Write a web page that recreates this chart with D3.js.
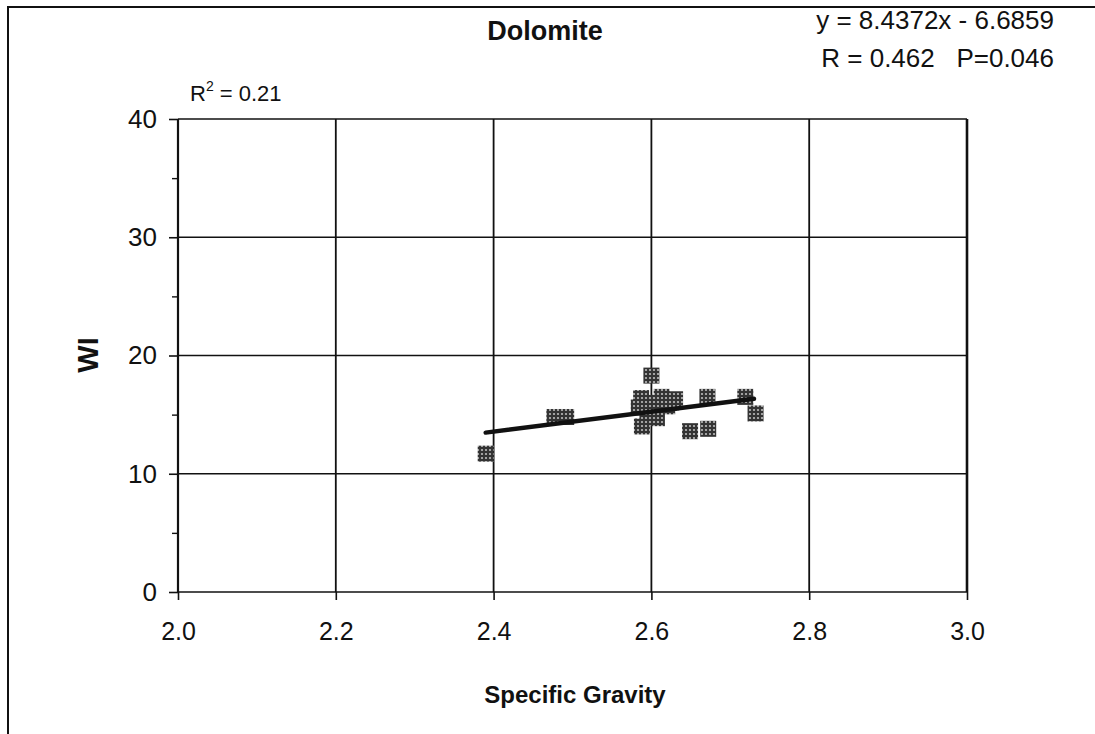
<!DOCTYPE html>
<html>
<head>
<meta charset="utf-8">
<script src="https://cdn.jsdelivr.net/npm/d3@7"></script>
<style>
  body { margin: 0; background: #fff; }
  text { font-family: "Liberation Sans", Arial, sans-serif; fill: #111; }
</style>
</head>
<body>
<script>
// data
var sg = [2.39, 2.477, 2.492, 2.600, 2.587, 2.613, 2.630, 2.584, 2.603, 2.620, 2.588, 2.607, 2.595, 2.671, 2.719, 2.732, 2.649, 2.672, 2.625];
var wi = [11.7, 14.8, 14.8, 18.3, 16.4, 16.5, 16.3, 15.6, 16.0, 15.7, 14.0, 14.7, 14.9, 16.5, 16.5, 15.1, 13.6, 13.8, 16.0];
var xTicks = [2.0, 2.2, 2.4, 2.6, 2.8, 3.0];
var yTicks = [0, 10, 20, 30, 40];
var yMinor = [5, 15, 25, 35];
var slope = 8.4372, intercept = -6.6859;
var fitRange = [2.39, 2.73];

var width = 1095, height = 734;
var svg = d3.select("body").append("svg")
  .attr("width", width)
  .attr("height", height);

// dotted fill for the square markers
var pat = svg.append("defs").append("pattern")
  .attr("id", "dots")
  .attr("width", 4).attr("height", 4)
  .attr("patternUnits", "userSpaceOnUse");
pat.append("rect").attr("width", 4).attr("height", 4).attr("fill", "#333");
pat.append("circle").attr("cx", 2).attr("cy", 2).attr("r", 1.1).attr("fill", "#bdbdbd");

// scanned page frame (top and left only)
svg.append("line").attr("x1", 7).attr("x2", width).attr("y1", 7).attr("y2", 7)
  .attr("stroke", "#111").attr("stroke-width", 2);
svg.append("line").attr("x1", 8).attr("x2", 8).attr("y1", 7).attr("y2", height)
  .attr("stroke", "#111").attr("stroke-width", 2);

var x = d3.scaleLinear().domain([2.0, 3.0]).range([178, 967]);
var y = d3.scaleLinear().domain([0, 40]).range([592, 119]);

// gridlines
svg.append("g").selectAll("line").data(xTicks).enter().append("line")
  .attr("x1", function(d) { return x(d); })
  .attr("x2", function(d) { return x(d); })
  .attr("y1", y(0)).attr("y2", y(40))
  .attr("stroke", "#111").attr("stroke-width", 1.8);
svg.append("g").selectAll("line").data(yTicks).enter().append("line")
  .attr("x1", x(2.0)).attr("x2", x(3.0))
  .attr("y1", function(d) { return y(d); })
  .attr("y2", function(d) { return y(d); })
  .attr("stroke", "#111").attr("stroke-width", 1.6);

// axes
var xAxis = d3.axisBottom(x).tickValues(xTicks).tickFormat(d3.format(".1f"))
  .tickSize(8).tickPadding(22);
var gx = svg.append("g").attr("transform", "translate(0," + y(0) + ")").call(xAxis);
gx.select(".domain").remove();
gx.selectAll("line").attr("stroke", "#111").attr("stroke-width", 1.6);
gx.selectAll("text").attr("font-size", 25);

var yAxis = d3.axisLeft(y).tickValues(yTicks).tickSize(9).tickPadding(12);
var gy = svg.append("g").attr("transform", "translate(" + x(2.0) + ",0)").call(yAxis);
gy.select(".domain").remove();
gy.selectAll("line").attr("stroke", "#111").attr("stroke-width", 1.6);
gy.selectAll("text").attr("font-size", 26);

var gyMinor = svg.append("g").attr("transform", "translate(" + x(2.0) + ",0)")
  .call(d3.axisLeft(y).tickValues(yMinor).tickSize(6).tickFormat(""));
gyMinor.select(".domain").remove();
gyMinor.selectAll("line").attr("stroke", "#111").attr("stroke-width", 1.4);

// plot edges a touch heavier
svg.append("line").attr("x1", x(2.0)).attr("x2", x(2.0)).attr("y1", y(40)).attr("y2", y(0))
  .attr("stroke", "#111").attr("stroke-width", 2.2);
svg.append("line").attr("x1", x(3.0)).attr("x2", x(3.0)).attr("y1", y(40)).attr("y2", y(0))
  .attr("stroke", "#111").attr("stroke-width", 2.6);

// markers
var size = 16;
svg.append("g").selectAll("rect").data(sg).enter().append("rect")
  .attr("x", function(d) { return x(d) - size / 2; })
  .attr("y", function(d, i) { return y(wi[i]) - size / 2; })
  .attr("width", size).attr("height", size)
  .attr("fill", "url(#dots)");

// regression line
svg.append("line")
  .attr("x1", x(fitRange[0])).attr("y1", y(slope * fitRange[0] + intercept))
  .attr("x2", x(fitRange[1])).attr("y2", y(slope * fitRange[1] + intercept))
  .attr("stroke", "#111").attr("stroke-width", 4.5).attr("stroke-linecap", "round");

// titles and annotations
svg.append("text").attr("x", 545).attr("y", 40).attr("text-anchor", "middle")
  .attr("font-size", 27).attr("font-weight", "bold").text("Dolomite");

svg.append("text").attr("x", 1054).attr("y", 29).attr("text-anchor", "end")
  .attr("font-size", 26).text("y = 8.4372x - 6.6859");
svg.append("text").attr("x", 1054).attr("y", 67).attr("text-anchor", "end")
  .attr("font-size", 26).attr("xml:space", "preserve").text("R = 0.462   P=0.046");

var r2 = svg.append("text").attr("x", 190).attr("y", 101).attr("font-size", 22);
r2.append("tspan").text("R");
r2.append("tspan").attr("dy", -10).attr("font-size", 14).text("2");
r2.append("tspan").attr("dy", 10).text(" = 0.21");

svg.append("text").attr("x", 575).attr("y", 703).attr("text-anchor", "middle")
  .attr("font-size", 24).attr("font-weight", "bold").text("Specific Gravity");

svg.append("text").attr("transform", "translate(98,355) rotate(-90)")
  .attr("text-anchor", "middle").attr("font-size", 29).attr("font-weight", "bold").text("WI");
</script>
</body>
</html>
